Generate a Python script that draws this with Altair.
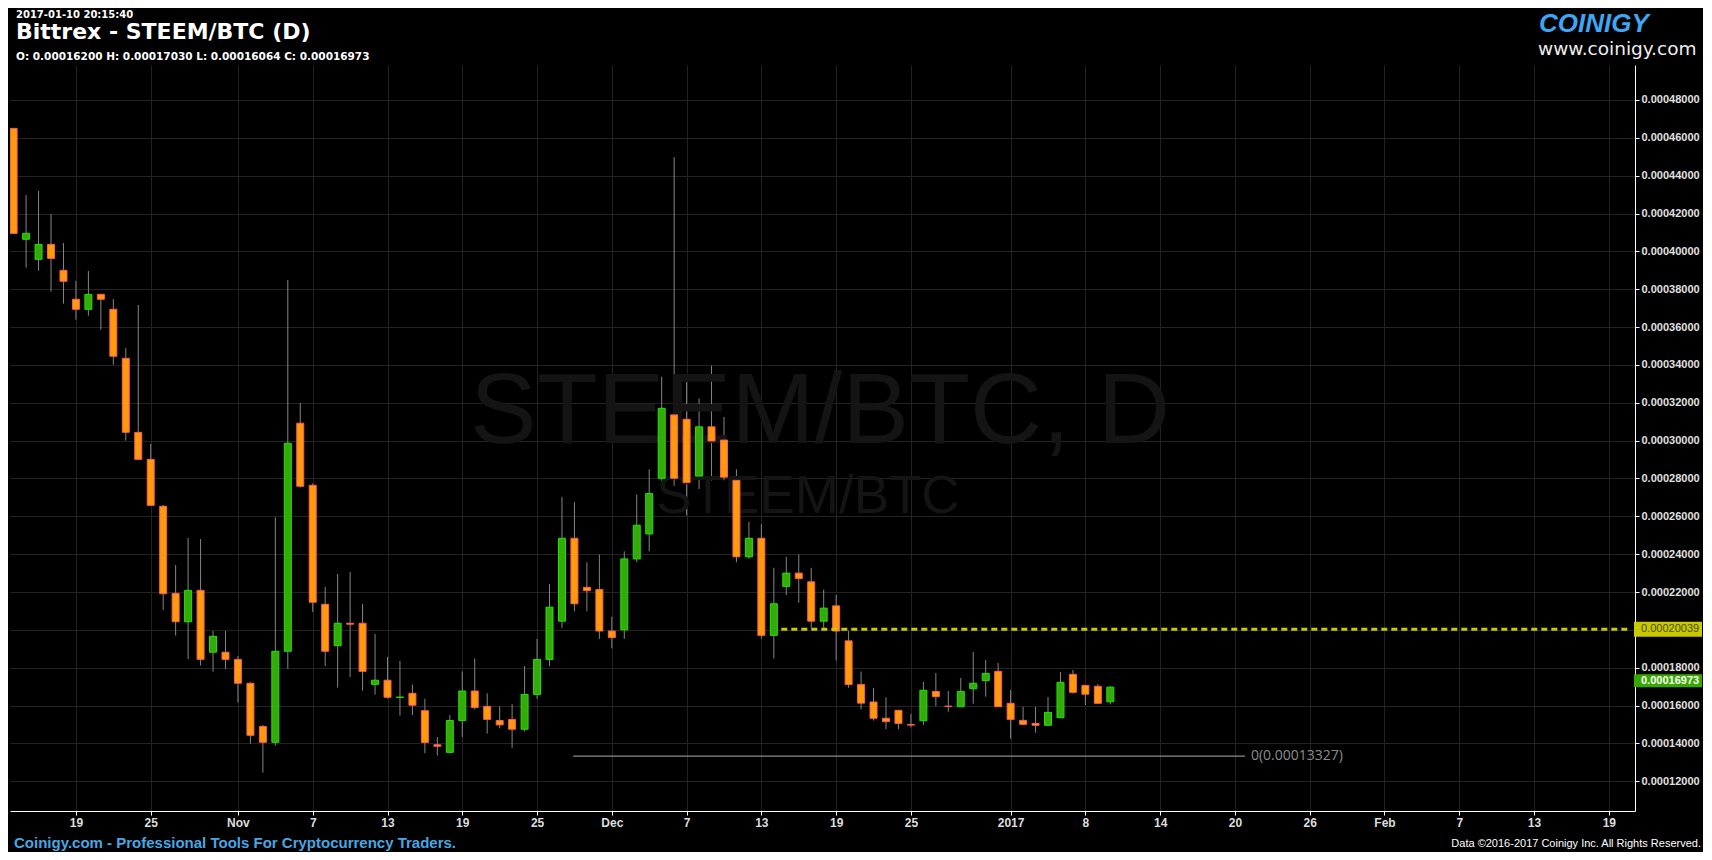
import json
import altair as alt
import pandas as pd

# ---------------- data ----------------
# day offsets relative to 2016-10-19 (Oct 14 2016 .. Jan 10 2017)
day_offset = list(range(-5, 84))

# OHLC in units of 1e-5 BTC
opens_e5 = [46.50, 40.64, 39.58, 40.37, 39.00, 37.47, 36.94, 37.73, 36.94, 34.35,
            30.44, 29.01, 26.53, 21.93, 20.43, 22.09, 18.82, 18.82, 18.44, 17.18,
            14.90, 14.06, 18.87, 30.92, 27.64, 21.35, 19.17, 20.35, 20.35, 17.12,
            17.34, 16.43, 16.65, 15.73, 13.93, 13.53, 15.21, 16.77, 15.96, 15.21,
            15.27, 14.75, 16.59, 18.44, 20.46, 24.84, 22.25, 22.13, 19.94, 20.00,
            23.75, 25.07, 28.01, 31.36, 31.13, 28.13, 30.73, 30.03, 27.90, 23.86,
            24.84, 19.71, 22.30, 23.00, 22.54, 20.46, 21.27, 19.42, 17.11, 16.19,
            15.33, 15.75, 15.00, 15.20, 16.75, 15.97, 15.94, 16.89, 17.32, 17.81,
            16.12, 15.22, 15.06, 14.96, 15.36, 17.65, 17.07, 17.02, 16.200]
highs_e5 = [46.50, 42.98, 43.19, 41.98, 40.44, 38.44, 38.96, 37.73, 37.48, 34.90,
            37.17, 29.82, 26.60, 23.43, 24.86, 24.80, 19.94, 19.94, 18.62, 17.23,
            14.97, 25.95, 38.49, 31.99, 27.74, 22.27, 22.95, 23.06, 21.37, 19.78,
            18.57, 18.36, 17.11, 16.36, 14.34, 15.50, 17.80, 18.49, 16.65, 15.96,
            16.07, 18.09, 19.53, 22.42, 27.03, 26.75, 23.57, 23.98, 20.69, 24.15,
            27.15, 28.48, 33.38, 44.98, 33.09, 32.23, 33.96, 31.25, 28.48, 25.71,
            25.59, 23.28, 23.86, 23.98, 23.28, 22.13, 21.84, 19.94, 17.80, 16.94,
            16.44, 15.75, 15.56, 17.25, 17.72, 16.77, 17.46, 18.83, 18.41, 18.25,
            16.82, 15.93, 15.93, 16.45, 17.78, 17.88, 17.07, 17.14, 17.030]
lows_e5 = [40.95, 39.14, 38.98, 37.87, 37.24, 36.39, 36.60, 35.86, 34.01, 30.00,
           29.01, 26.58, 21.05, 19.70, 18.46, 18.11, 17.79, 17.93, 16.16, 13.99,
           12.46, 13.88, 17.93, 27.52, 20.95, 18.09, 16.95, 17.51, 16.79, 16.58,
           16.37, 15.47, 15.50, 13.48, 13.36, 13.48, 14.34, 15.79, 14.52, 14.80,
           13.77, 14.63, 16.36, 18.09, 20.11, 20.98, 20.98, 19.53, 19.02, 19.53,
           23.57, 24.15, 27.61, 27.61, 26.05, 27.44, 27.90, 27.90, 23.57, 23.75,
           19.53, 18.49, 21.84, 21.44, 20.11, 20.11, 18.38, 16.94, 15.79, 15.21,
           14.76, 14.76, 14.85, 14.97, 15.98, 15.68, 15.94, 16.10, 16.47, 15.94,
           14.25, 14.97, 14.57, 14.96, 15.36, 16.63, 16.03, 16.12, 16.064]
closes_e5 = [40.95, 40.955, 40.37, 39.63, 38.42, 36.94, 37.73, 37.47, 34.46, 30.44,
             29.01, 26.58, 21.91, 20.43, 22.09, 18.44, 19.66, 18.44, 17.18, 14.43,
             14.06, 18.87, 29.86, 27.59, 21.46, 18.87, 20.35, 20.30, 17.81, 17.34,
             16.44, 16.45, 16.02, 14.05, 13.85, 15.21, 16.77, 15.90, 15.27, 14.98,
             14.75, 16.59, 18.44, 21.20, 24.84, 21.38, 22.07, 19.94, 19.59, 23.75,
             25.53, 27.21, 31.71, 28.01, 27.78, 30.73, 29.98, 28.07, 23.86, 24.84,
             19.71, 21.38, 23.00, 22.71, 20.46, 21.15, 19.94, 17.11, 16.13, 15.33,
             15.15, 15.06, 14.97, 16.81, 16.47, 15.95, 16.75, 17.18, 17.70, 15.94,
             15.27, 15.01, 14.96, 15.64, 17.23, 16.70, 16.60, 16.12, 16.973]

# x axis ticks (day offsets from 2016-10-19) and their labels
tick_days = [0, 6, 13, 19, 25, 31, 37, 43, 49, 55, 61, 67, 75, 81, 87, 93, 99, 105, 111, 117, 123]
tick_labels = ["19", "25", "Nov", "7", "13", "19", "25", "Dec", "7", "13", "19", "25",
               "2017", "8", "14", "20", "26", "Feb", "7", "13", "19"]
# y axis ticks
price_ticks = [0.00012, 0.00014, 0.00016, 0.00018, 0.00020, 0.00022, 0.00024, 0.00026,
               0.00028, 0.00030, 0.00032, 0.00034, 0.00036, 0.00038, 0.00040, 0.00042,
               0.00044, 0.00046, 0.00048]

x_domain = [-4.89, 124.7]
y_domain = [0.0001043, 0.00049849]

# horizontal annotation levels
alert_level = 0.00020039
alert_start_day = 56.6
last_close = 0.00016973
low_level = 0.00013327
low_start_day = 39.9
low_end_day = 93.8

# ---------------- frames ----------------
df = pd.DataFrame({
    "day": day_offset,
    "open": [v * 1e-5 for v in opens_e5],
    "high": [v * 1e-5 for v in highs_e5],
    "low": [v * 1e-5 for v in lows_e5],
    "close": [v * 1e-5 for v in closes_e5],
})
df["dir"] = ["up" if c >= o else "down" for o, c in zip(df["open"], df["close"])]

W, H = 1625, 746

xscale = alt.Scale(domain=x_domain, nice=False, zero=False)
yscale = alt.Scale(domain=y_domain, nice=False, zero=False)

label_expr = f"{json.dumps(tick_labels)}[indexof({json.dumps(tick_days)}, datum.value)]"

x_axis = alt.Axis(values=tick_days, labelExpr=label_expr, grid=True, gridColor="#232323",
                  domainColor="#ffffff", tickColor="#ffffff", tickSize=4, labelPadding=2,
                  labelColor="#dddddd", labelFont="Liberation Sans Narrow, Liberation Sans",
                  labelFontWeight="bold", labelFontSize=12, title=None, labelFlush=False)
y_axis = alt.Axis(values=price_ticks, format=".8f", orient="right", grid=True,
                  gridColor="#232323", domainColor="#ffffff", tickColor="#ffffff",
                  tickSize=4, labelPadding=2, labelColor="#e0e0e0",
                  labelFont="Liberation Sans", labelFontWeight="bold", labelFontSize=11,
                  title=None)

base = alt.Chart(df)

wicks = base.mark_rule(color="#858585", strokeWidth=1, clip=True).encode(
    x=alt.X("day:Q", scale=xscale, axis=x_axis),
    y=alt.Y("low:Q", scale=yscale, axis=y_axis),
    y2="high:Q",
)

bodies = base.mark_bar(size=7, strokeWidth=1, clip=True).encode(
    x="day:Q",
    y="open:Q",
    y2="close:Q",
    color=alt.Color("dir:N", scale=alt.Scale(domain=["up", "down"], range=["#36a90c", "#ff9a0a"]), legend=None),
    stroke=alt.Stroke("dir:N", scale=alt.Scale(domain=["up", "down"], range=["#1ee600", "#ff5a60"]), legend=None),
)

one = pd.DataFrame({"k": [0]})

alert_df = pd.DataFrame({"x": [alert_start_day], "x2": [x_domain[1]], "y": [alert_level]})
alert_line = alt.Chart(alert_df).mark_rule(color="#c9c900", strokeWidth=3, strokeDash=[6, 4], clip=True).encode(
    x="x:Q", x2="x2:Q", y="y:Q")

low_df = pd.DataFrame({"x": [low_start_day], "x2": [low_end_day], "y": [low_level],
                       "label": [f"0({low_level:.8f})"]})
low_line = alt.Chart(low_df).mark_rule(color="#8c8c8c", strokeWidth=1.2).encode(
    x="x:Q", x2="x2:Q", y="y:Q")
low_text = alt.Chart(low_df).mark_text(align="left", baseline="middle", dx=6, color="#8c8c8c",
                                        font="Open Sans", fontSize=14).encode(
    x="x2:Q", y="y:Q", text="label:N")

# price boxes on the right axis
box_df = pd.DataFrame({"y": [alert_level], "label": [f"{alert_level:.8f}"]})
alert_box = alt.Chart(box_df).mark_rule(color="#c9c900", strokeWidth=15).encode(
    y="y:Q", x=alt.value(W - 1), x2=alt.value(W + 67))
alert_box_text = alt.Chart(box_df).mark_text(align="left", baseline="middle", color="#4a4a10",
                                             font="Liberation Sans", fontSize=11).encode(
    y="y:Q", x=alt.value(W + 6), text="label:N")

last_df = pd.DataFrame({"y": [last_close], "label": [f"{last_close:.8f}"]})
last_box = alt.Chart(last_df).mark_rule(color="#38a800", strokeWidth=13, yOffset=-6.5).encode(
    y="y:Q", x=alt.value(W - 1), x2=alt.value(W + 67))
last_box_text = alt.Chart(last_df).mark_text(align="left", baseline="middle", color="#ffffff",
                                             font="Liberation Sans", fontWeight="bold", fontSize=11,
                                             yOffset=-6.5).encode(
    y="y:Q", x=alt.value(W + 6), text="label:N")


def label(text, x, y, **kw):
    return alt.Chart(one).mark_text(**kw).encode(x=alt.value(x), y=alt.value(y), text=alt.value(text))


watermark1 = label("STEEM/BTC, D", 810, 378, align="center", baseline="alphabetic",
                   font="Liberation Sans", fontSize=100, color="#141414")
watermark2 = label("STEEM/BTC", 798, 448, align="center", baseline="alphabetic",
                   font="Liberation Sans", fontSize=53, color="#141414")

hdr_date = label("2017-01-10 20:15:40", 6, -47, align="left", baseline="alphabetic",
                 font="DejaVu Sans", fontWeight="bold", fontSize=10, color="#ffffff")
hdr_title = label("Bittrex - STEEM/BTC (D)", 6, -26, align="left", baseline="alphabetic",
                  font="DejaVu Sans", fontWeight="bold", fontSize=22, color="#ffffff")
hdr_ohlc = label("O: 0.00016200 H: 0.00017030 L: 0.00016064 C: 0.00016973", 6, -5,
                 align="left", baseline="alphabetic", font="DejaVu Sans", fontWeight="bold",
                 fontSize=10.5, color="#ffffff")

logo = label("COINIGY", 1529, -33, align="left", baseline="alphabetic",
             font="Liberation Sans Narrow, Liberation Sans", fontWeight="bold", fontStyle="italic",
             fontSize=26, color="#3ea6f2")
logo_url = label("www.coinigy.com", 1528, -10, align="left", baseline="alphabetic",
                 font="DejaVu Sans", fontSize=18.5, color="#eeeeee")

footer = label("Coinigy.com - Professional Tools For Cryptocurrency Traders.", 4, 783,
               align="left", baseline="alphabetic", font="Liberation Sans Narrow, Liberation Sans",
               fontWeight="bold", fontSize=15, color="#49a6e2")
copyright_txt = label("Data ©2016-2017 Coinigy Inc. All Rights Reserved.", 1691, 782,
                      align="right", baseline="alphabetic", font="Liberation Sans Narrow, Liberation Sans",
                      fontSize=11, color="#ffffff")

chart = alt.layer(
    wicks, watermark1, watermark2, low_line, low_text, bodies, alert_line,
    alert_box, alert_box_text, last_box, last_box_text,
    hdr_date, hdr_title, hdr_ohlc, logo, logo_url, footer, copyright_txt,
).properties(
    width=W, height=H,
    autosize=alt.AutoSizeParams(type="none"),
    padding={"left": 2, "top": 57, "right": 68, "bottom": 41},
    background="#000000",
).configure_view(stroke=None)

chart.save("out.html", embed_options={"renderer": "svg", "actions": False})
